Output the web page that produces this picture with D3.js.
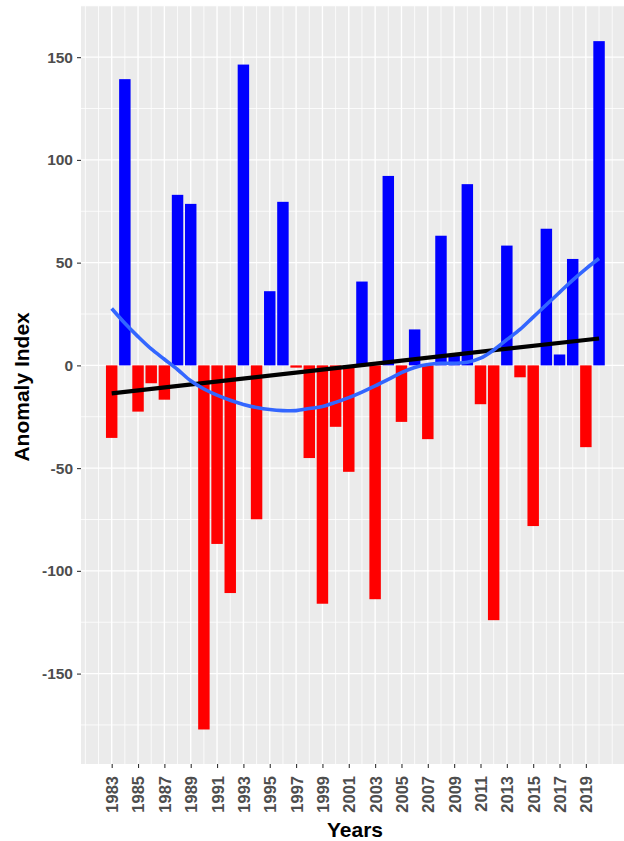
<!DOCTYPE html>
<html><head><meta charset="utf-8">
<script src="https://cdn.jsdelivr.net/npm/d3@7"></script>
<style>body{margin:0;background:#fff}svg{display:block}</style>
</head><body><svg id="c" width="624" height="841"></svg>
<script>
const years = [1983,1984,1985,1986,1987,1988,1989,1990,1991,1992,1993,1994,1995,1996,1997,1998,1999,2000,2001,2002,2003,2004,2005,2006,2007,2008,2009,2010,2011,2012,2013,2014,2015,2016,2017,2018,2019,2020];
const anomaly = [-35.3,139.3,-22.5,-8.7,-16.7,83.0,78.6,-177.2,-86.9,-110.8,146.4,-74.9,36.1,79.6,-1.1,-45.1,-116.0,-29.9,-51.8,40.8,-113.8,92.2,-27.5,17.5,-35.9,63.1,5.5,88.2,-18.9,-124.0,58.3,-5.8,-78.2,66.5,5.3,51.8,-39.8,157.8];
const trendYears = [1983, 2020];
const trendValues = [-13.6, 13.1];
const smoothValues = [27.7,20.5,14.0,8.0,3.0,-2.0,-7.5,-11.5,-14.5,-17.0,-19.0,-20.5,-21.5,-22.0,-22.0,-21.0,-20.0,-18.0,-15.7,-13.0,-10.0,-6.8,-3.5,-1.0,0.4,1.0,1.0,1.5,3.5,7.5,12.5,17.5,23.5,29.5,35.5,41.5,47.0,52.0];
const xTicks = [1983,1985,1987,1989,1991,1993,1995,1997,1999,2001,2003,2005,2007,2009,2011,2013,2015,2017,2019];
const yTicks = [-150,-100,-50,0,50,100,150];
const yMinor = [-175,-125,-75,-25,25,75,125,175];
const gridYears = [1981,1982,1983,1984,1985,1986,1987,1988,1989,1990,1991,1992,1993,1994,1995,1996,1997,1998,1999,2000,2001,2002,2003,2004,2005,2006,2007,2008,2009,2010,2011,2012,2013,2014,2015,2016,2017,2018,2019,2020,2021];

const W = 624, H = 841;
const L = 81, R = 630, T = 5.8, B = 764;
const svg = d3.select('#c');
svg.append('rect').attr('width', W).attr('height', H).attr('fill', '#fff');

const x = d3.scaleLinear().domain([1980.67, 2022.35]).range([L, R]);
const y = d3.scaleLinear().domain([-194, 175]).range([B, T]);

svg.append('defs').append('clipPath').attr('id', 'clip')
  .append('rect').attr('x', L).attr('y', T).attr('width', R - L).attr('height', B - T);

const panel = svg.append('g').attr('clip-path', 'url(#clip)');
panel.append('rect').attr('x', L).attr('y', T).attr('width', R - L).attr('height', B - T).attr('fill', '#EBEBEB');

// grid
panel.selectAll('.gx').data(gridYears).enter().append('line')
  .attr('x1', d => x(d)).attr('x2', d => x(d)).attr('y1', T).attr('y2', B)
  .attr('stroke', '#fff').attr('stroke-width', d => xTicks.includes(d) ? 1.4 : 0.8);
panel.selectAll('.gym').data(yMinor).enter().append('line')
  .attr('x1', L).attr('x2', R).attr('y1', d => y(d)).attr('y2', d => y(d))
  .attr('stroke', '#fff').attr('stroke-width', 0.8);
panel.selectAll('.gy').data(yTicks).enter().append('line')
  .attr('x1', L).attr('x2', R).attr('y1', d => y(d)).attr('y2', d => y(d))
  .attr('stroke', '#fff').attr('stroke-width', 1.4);

// bars
const bw = 0.87;
const data = years.map((yr, i) => ({yr, v: anomaly[i]}));
panel.selectAll('.bar').data(data).enter().append('rect')
  .attr('x', d => x(d.yr - bw / 2))
  .attr('width', x(bw) - x(0))
  .attr('y', d => y(Math.max(0, d.v)))
  .attr('height', d => Math.abs(y(d.v) - y(0)))
  .attr('fill', d => d.v < 0 ? '#FF0000' : '#0000FF');

// trend line
const line = d3.line().x(d => x(d[0])).y(d => y(d[1]));
panel.append('path')
  .attr('d', line(trendYears.map((t, i) => [t, trendValues[i]])))
  .attr('fill', 'none').attr('stroke', '#000').attr('stroke-width', 4.2);

// loess smooth
const sline = d3.line().x(d => x(d[0])).y(d => y(d[1])).curve(d3.curveCatmullRom);
panel.append('path')
  .attr('d', sline(years.map((t, i) => [t, smoothValues[i]])))
  .attr('fill', 'none').attr('stroke', '#3366FF').attr('stroke-width', 3.6)
  .attr('stroke-linecap', 'butt');

// axes
const font = "'Liberation Sans', Arial, sans-serif";
const yAxis = svg.append('g').attr('transform', `translate(${L},0)`)
  .call(d3.axisLeft(y).tickValues(yTicks).tickSize(4).tickPadding(4).tickFormat(d => String(d)));
yAxis.select('.domain').remove();
yAxis.selectAll('line').attr('stroke', '#333').attr('stroke-width', 1.1);
yAxis.selectAll('text').attr('fill', '#4D4D4D').style('font-family', font)
  .style('font-size', '15.5px').style('font-weight', 'bold');

const xAxis = svg.append('g').attr('transform', `translate(0,${B})`)
  .call(d3.axisBottom(x).tickValues(xTicks).tickSize(4).tickFormat(d => String(d)));
xAxis.select('.domain').remove();
xAxis.selectAll('line').attr('stroke', '#333').attr('stroke-width', 1.1);
xAxis.selectAll('text')
  .attr('transform', 'rotate(-90)')
  .attr('x', -12).attr('y', 0).attr('dy', '0.36em')
  .attr('text-anchor', 'end')
  .attr('fill', '#4D4D4D').style('font-family', font)
  .style('font-size', '16.5px').style('font-weight', 'bold');

// titles
svg.append('text').attr('transform', `translate(29,${(T + B) / 2 + 2}) rotate(-90)`)
  .attr('text-anchor', 'middle').attr('fill', '#000')
  .style('font-family', font).style('font-size', '21px').style('font-weight', 'bold')
  .text('Anomaly Index');
svg.append('text').attr('x', 355).attr('y', 837)
  .attr('text-anchor', 'middle').attr('fill', '#000')
  .style('font-family', font).style('font-size', '21px').style('font-weight', 'bold')
  .text('Years');
</script>
</body></html>
